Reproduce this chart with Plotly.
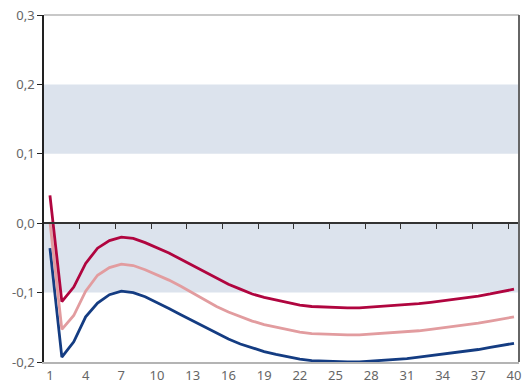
import plotly.graph_objects as go

periods = list(range(1, 41))

red = [0.040, -0.113, -0.092, -0.058, -0.036, -0.025, -0.020, -0.022, -0.028, -0.035,
       -0.043, -0.052, -0.061, -0.071, -0.080, -0.088, -0.095, -0.102, -0.107, -0.111,
       -0.115, -0.118, -0.120, -0.121, -0.122, -0.122, -0.122, -0.121, -0.120, -0.119,
       -0.118, -0.116, -0.114, -0.112, -0.110, -0.108, -0.105, -0.102, -0.099, -0.095]

pink = [0.002, -0.153, -0.133, -0.098, -0.075, -0.064, -0.059, -0.061, -0.067, -0.074,
        -0.082, -0.091, -0.101, -0.111, -0.120, -0.128, -0.135, -0.141, -0.146, -0.150,
        -0.154, -0.157, -0.159, -0.160, -0.161, -0.161, -0.161, -0.160, -0.159, -0.158,
        -0.157, -0.155, -0.153, -0.151, -0.149, -0.147, -0.144, -0.141, -0.138, -0.135]

blue = [-0.036, -0.193, -0.171, -0.135, -0.115, -0.103, -0.098, -0.100, -0.106, -0.114,
        -0.123, -0.132, -0.141, -0.150, -0.159, -0.167, -0.174, -0.180, -0.185, -0.189,
        -0.193, -0.196, -0.198, -0.199, -0.200, -0.200, -0.200, -0.199, -0.198, -0.197,
        -0.195, -0.193, -0.191, -0.189, -0.187, -0.185, -0.182, -0.179, -0.176, -0.173]

x_tick_vals = list(range(1, 41, 3))
x_tick_text = [str(v) for v in x_tick_vals]
zero_tick_vals = [v + 0.5 for v in range(3, 40, 3)]
y_tick_vals = [-0.2, -0.1, 0.0, 0.1, 0.2, 0.3]
y_tick_text = ["-0,2", "-0,1", "0,0", "0,1", "0,2", "0,3"]
bands = [(0.1, 0.2), (-0.1, 0.0)]

fig = go.Figure()

for lo, hi in bands:
    fig.add_shape(type="rect", xref="paper", yref="y", x0=0, x1=1, y0=lo, y1=hi,
                  fillcolor="#dce3ed", line_width=0, layer="below")

for series, color in [(blue, "#143c82"), (pink, "#e29c9f"), (red, "#b0053f")]:
    fig.add_trace(go.Scatter(x=periods, y=series, mode="lines",
                             line=dict(color=color, width=2.8), showlegend=False,
                             hoverinfo="skip"))

# invisible trace to activate the zero-line axis
fig.add_trace(go.Scatter(x=[periods[0]], y=[0], xaxis="x2", mode="markers",
                         marker=dict(opacity=0), showlegend=False, hoverinfo="skip"))

# borders
fig.add_shape(type="line", xref="paper", yref="paper", x0=0, x1=1, y0=1, y1=1,
              line=dict(color="#c8c8c8", width=2))
fig.add_shape(type="line", xref="paper", yref="paper", x0=1, x1=1, y0=0, y1=1,
              line=dict(color="#666666", width=2))

font = dict(family="Noto Sans, Open Sans, sans-serif", size=13, color="#666666")

fig.update_layout(
    width=531, height=383,
    margin=dict(l=44, r=12, t=15, b=21),
    plot_bgcolor="white", paper_bgcolor="white",
    font=font,
    xaxis=dict(range=[0.5, 40.42], tickvals=x_tick_vals, ticktext=x_tick_text,
               showgrid=False, zeroline=False, showline=True, linecolor="#b4b4b4",
               linewidth=1.5, ticks="", ticklabelstandoff=1, automargin=False,
               ticklabeloverflow="allow"),
    xaxis2=dict(range=[0.5, 40.42], overlaying="x", anchor="free", position=0.4,
                side="bottom", tickvals=zero_tick_vals, showticklabels=False,
                ticks="outside", ticklen=5, tickcolor="#333333", tickwidth=1,
                showgrid=False, zeroline=False, showline=True, linecolor="#333333",
                linewidth=1.5, automargin=False),
    yaxis=dict(range=[-0.2, 0.3], tickvals=y_tick_vals, ticktext=y_tick_text,
               showgrid=False, zeroline=False, showline=True, linecolor="#222222",
               linewidth=1.5, ticks="outside", ticklen=5, tickcolor="#222222",
               automargin=False, ticklabeloverflow="allow"),
)

# remove the default 8px page margin so the figure fills the window exactly
fig.write_html("out.html",
               config={"displayModeBar": False},
               post_script="document.body.style.margin='0';document.body.style.overflow='hidden';")
